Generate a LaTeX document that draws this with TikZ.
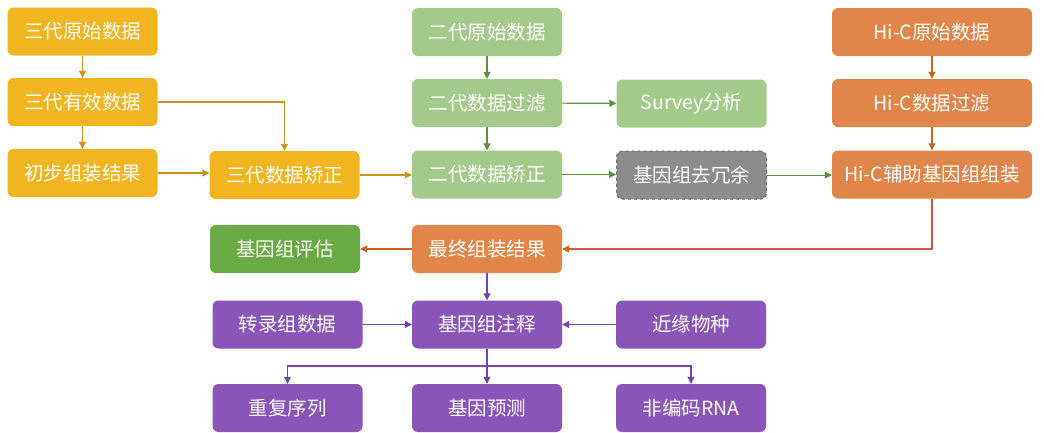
\documentclass[tikz,border=0pt]{standalone}
\usepackage{fontspec}
\newfontfamily\cjk{Noto Sans CJK SC}
\usetikzlibrary{arrows.meta}
\definecolor{cyel}{RGB}{240,181,32}
\definecolor{ayel}{RGB}{200,150,25}
\definecolor{cgrn}{RGB}{163,201,139}
\definecolor{agrn}{RGB}{90,145,60}
\definecolor{cora}{RGB}{225,134,74}
\definecolor{aora}{RGB}{200,100,30}
\definecolor{ared}{RGB}{215,85,60}
\definecolor{cgry}{RGB}{140,140,140}
\definecolor{bgry}{RGB}{105,105,105}
\definecolor{cdgr}{RGB}{106,170,69}
\definecolor{cpur}{RGB}{137,85,185}
\definecolor{apur}{RGB}{120,65,175}
\tikzset{
  box/.style={rounded corners=6pt, minimum height=48pt, minimum width=150pt, inner sep=0pt,
    text=white, font=\cjk\fontsize{19.5}{22}\selectfont},
  ybox/.style={box, fill=cyel},
  gbox/.style={box, fill=cgrn},
  obox/.style={box, fill=cora, minimum width=200pt},
  xbox/.style={box, fill=cgry, draw=bgry, dashed, line width=1pt},
  dgbox/.style={box, fill=cdgr},
  fbox/.style={box, fill=cora},
  pbox/.style={box, fill=cpur},
  conn/.style={line width=1.1pt, -{Triangle[length=7pt,width=7pt]}},
  yarr/.style={conn, draw=ayel},
  garr/.style={conn, draw=agrn},
  oarr/.style={conn, draw=aora},
  parr/.style={conn, draw=apur},
}
\begin{document}
\begin{tikzpicture}[x=1pt, y=-1pt]
\useasboundingbox (0,0) rectangle (1044,432);
% yellow
\node[ybox] (y3raw) at (82.5,31.5) {三代原始数据};
\node[ybox] (y3eff) at (82.5,102) {三代有效数据};
\node[ybox] (y3asm) at (82.5,173) {初步组装结果};
\node[ybox] (y3cor) at (284.5,175) {三代数据矫正};
% green
\node[gbox] (g2raw) at (487,32) {二代原始数据};
\node[gbox] (g2flt) at (487,103) {二代数据过滤};
\node[gbox] (g2cor) at (487,174.5) {二代数据矫正};
\node[gbox] (surv) at (691.5,103.5) {Survey分析};
\node[xbox] (dedup) at (691.5,175) {基因组去冗余};
% orange
\node[obox] (hraw) at (932,32) {Hi-C原始数据};
\node[obox] (hflt) at (932,103) {Hi-C数据过滤};
\node[obox] (hasm) at (932,174.5) {Hi-C辅助基因组组装};
% row 4
\node[dgbox] (eval) at (285,249) {基因组评估};
\node[fbox] (final) at (487,249) {最终组装结果};
% purple
\node[pbox] (trans) at (287.5,324.5) {转录组数据};
\node[pbox] (annot) at (487,324.5) {基因组注释};
\node[pbox] (rel) at (691,324.5) {近缘物种};
\node[pbox] (rep) at (287.5,408) {重复序列};
\node[pbox] (pred) at (487,408) {基因预测};
\node[pbox] (ncrna) at (691,408) {非编码RNA};
\coordinate (split) at (487,366);
% yellow arrows
\draw[yarr] (y3raw) -- (y3eff);
\draw[yarr] (y3eff) -- (y3asm);
\draw[yarr] (y3eff.east) -| (y3cor.north);
\draw[yarr] (y3asm.east) -- (y3asm.east -| y3cor.west);
\draw[yarr] (y3cor.east) -- (y3cor.east -| g2cor.west);
% green arrows
\draw[garr] (g2raw) -- (g2flt);
\draw[garr] (g2flt) -- (g2cor);
\draw[garr] (g2flt) -- (surv);
\draw[garr] (g2cor) -- (g2cor -| dedup.west);
\draw[garr, line width=0.7pt] (dedup.east) -- (dedup.east -| hasm.west);
% orange arrows
\draw[oarr] (hraw) -- (hflt);
\draw[oarr] (hflt) -- (hasm);
\draw[line width=1.1pt, draw=ared, -{Triangle[length=7pt,width=7pt,color=aora]}] (hasm.south) |- (final.east);
\draw[oarr] (final) -- (eval);
% purple arrows
\draw[parr] (final) -- (annot);
\draw[parr] (trans) -- (annot);
\draw[parr] (rel) -- (annot);
\draw[line width=1.1pt, draw=apur] (annot.south) -- (split);
\draw[parr] (split) -| (rep.north);
\draw[parr] (split) -- (pred.north);
\draw[parr] (split) -| (ncrna.north);
\end{tikzpicture}
\end{document}
